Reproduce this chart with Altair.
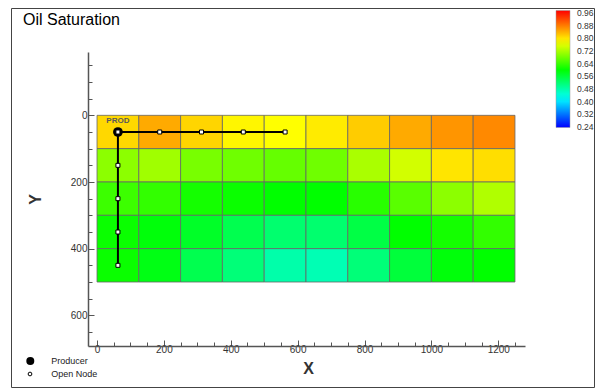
import altair as alt
import pandas as pd

# ---- data ----
x_edges = [0, 125, 250, 375, 500, 625, 750, 875, 1000, 1125, 1250]
y_edges = [0, 100, 200, 300, 400, 500]
so_row0 = [0.810, 0.845, 0.812, 0.787, 0.780, 0.795, 0.819, 0.845, 0.861, 0.870]
so_row1 = [0.699, 0.713, 0.685, 0.678, 0.671, 0.678, 0.720, 0.748, 0.800, 0.805]
so_row2 = [0.642, 0.635, 0.614, 0.607, 0.600, 0.600, 0.628, 0.663, 0.699, 0.724]
so_row3 = [0.607, 0.593, 0.572, 0.544, 0.522, 0.522, 0.551, 0.600, 0.614, 0.635]
so_row4 = [0.607, 0.586, 0.544, 0.515, 0.480, 0.473, 0.515, 0.558, 0.593, 0.600]
saturation = [so_row0, so_row1, so_row2, so_row3, so_row4]

producer_x = [62.5]
producer_y = [50]
lateral_x = [62.5, 187.5, 312.5, 437.5, 562.5]
lateral_y = [50, 50, 50, 50, 50]
vertical_x = [62.5, 62.5, 62.5, 62.5, 62.5]
vertical_y = [50, 150, 250, 350, 450]

colorbar_ticks = [0.24, 0.32, 0.40, 0.48, 0.56, 0.64, 0.72, 0.80, 0.88, 0.96]
color_stops = [0.2375, 0.42, 0.60, 0.78, 0.975]
color_range = ["#0000ff", "#00ffff", "#00ff00", "#ffff00", "#ff0000"]
x_ticks = list(range(0, 1251, 50))
y_ticks = list(range(-150, 651, 50))

# ---- tables ----
cells = []
for j, row in enumerate(saturation):
    for i, v in enumerate(row):
        cells.append(dict(x0=x_edges[i], x1=x_edges[i + 1],
                          y0=y_edges[j], y1=y_edges[j + 1], so=v))
cells_df = pd.DataFrame(cells)

nodes_df = pd.DataFrame({"x": lateral_x + vertical_x[1:], "y": lateral_y + vertical_y[1:]})
seg_df = pd.DataFrame({
    "x": [lateral_x[0], vertical_x[0]], "y": [lateral_y[0], vertical_y[0]],
    "x2": [lateral_x[-1], vertical_x[-1]], "y2": [lateral_y[-1], vertical_y[-1]],
})
prod_df = pd.DataFrame({"x": producer_x, "y": producer_y, "name": ["PROD"]})

FONT = "Liberation Sans"

xs = alt.Scale(domain=[-27, 1280], nice=False, zero=False)
ys = alt.Scale(domain=[-190, 692], nice=False, zero=False, reverse=True)

common_axis = dict(
    grid=False, domainColor="#555555", domainWidth=1.5, tickColor="#555555",
    tickWidth=1, labelColor="#333333", labelFont=FONT, labelFontSize=10,
    format="d", labelExpr="datum.value % 200 === 0 ? datum.label : ''",
    tickSize=alt.ExprRef("datum.value % 200 === 0 ? -6 : -4"),
    titleFont=FONT, titleFontWeight="bold", titleFontSize=16, titleColor="#333333",
    labelOverlap=False,
)
x_axis = alt.Axis(values=x_ticks, title="X", titleX=220, titleY=27,
                  titleBaseline="alphabetic", labelPadding=4, **common_axis)
y_axis = alt.Axis(values=y_ticks, title="Y", titleX=-48, titleY=147, titleAngle=270,
                  titleBaseline="alphabetic", labelPadding=7, **common_axis)


def X(field):
    return alt.X(field, type="quantitative", scale=xs, axis=x_axis)


def Y(field):
    return alt.Y(field, type="quantitative", scale=ys, axis=y_axis)


cells_layer = alt.Chart(cells_df).mark_rect(stroke="#666666", strokeWidth=0.8).encode(
    x=X("x0"), x2="x1", y=Y("y0"), y2="y1",
    color=alt.Color(
        "so:Q",
        scale=alt.Scale(domain=color_stops, range=color_range, interpolate="rgb"),
        legend=alt.Legend(
            orient="none", legendX=468, legendY=-41.5, direction="vertical",
            gradientLength=117, gradientThickness=14, values=colorbar_ticks,
            format=".2f", labelFontSize=8.5, labelFont=FONT, labelColor="#333333",
            labelOffset=7, labelBaseline="middle", labelOverlap=False, title=None,
            padding=0, gradientStrokeColor="#999999", gradientStrokeWidth=0.5,
        ),
    ),
)

seg_layer = alt.Chart(seg_df).mark_rule(color="black", strokeWidth=2).encode(
    x=X("x"), y=Y("y"), x2="x2", y2="y2")

prod_layer = alt.Chart(prod_df).mark_point(
    shape="circle", filled=True, color="black", size=95, opacity=1).encode(
    x=X("x"), y=Y("y"))

prod_label = alt.Chart(prod_df).mark_text(
    dy=-11, fontSize=8, fontWeight="bold", font=FONT, color="#5a5a5a").encode(
    x=X("x"), y=Y("y"), text="name:N")

nodes_layer = alt.Chart(nodes_df).mark_point(
    shape="square", filled=True, fill="white", stroke="black", strokeWidth=1,
    size=16, opacity=1).encode(x=X("x"), y=Y("y"))

one = alt.Data(values=[{"a": 1}])

frame = alt.Chart(one).mark_rect(fillOpacity=0, stroke="#444444", strokeWidth=1).encode(
    x=alt.value(-76.5), x2=alt.value(506.5), y=alt.value(-43.5), y2=alt.value(335.5))

title = alt.Chart(one).mark_text(
    align="left", baseline="alphabetic", fontSize=16, font=FONT, color="black").encode(
    x=alt.value(-65), y=alt.value(-27), text=alt.value("Oil Saturation"))

leg_prod_dot = alt.Chart(one).mark_point(
    shape="circle", filled=True, color="black", size=64, opacity=1).encode(
    x=alt.value(-57.7), y=alt.value(309))
leg_node_dot = alt.Chart(one).mark_point(
    shape="circle", filled=True, fill="white", stroke="black", strokeWidth=1,
    size=14, opacity=1).encode(x=alt.value(-58), y=alt.value(322))
leg_prod_txt = alt.Chart(one).mark_text(
    align="left", baseline="middle", fontSize=9, font=FONT, color="#222222").encode(
    x=alt.value(-36.7), y=alt.value(308.5), text=alt.value("Producer"))
leg_node_txt = alt.Chart(one).mark_text(
    align="left", baseline="middle", fontSize=9, font=FONT, color="#222222").encode(
    x=alt.value(-36.7), y=alt.value(321.5), text=alt.value("Open Node"))

chart = alt.layer(
    frame, cells_layer, seg_layer, prod_layer, nodes_layer, prod_label,
    title, leg_prod_dot, leg_node_dot, leg_prod_txt, leg_node_txt,
).properties(
    width=437, height=294,
    autosize=alt.AutoSizeParams(type="none"),
    padding={"left": 80, "top": 44, "right": 73, "bottom": 43},
    background="white",
).configure_view(stroke=None)

chart.save("out.html", embed_options={"renderer": "svg", "actions": False})
